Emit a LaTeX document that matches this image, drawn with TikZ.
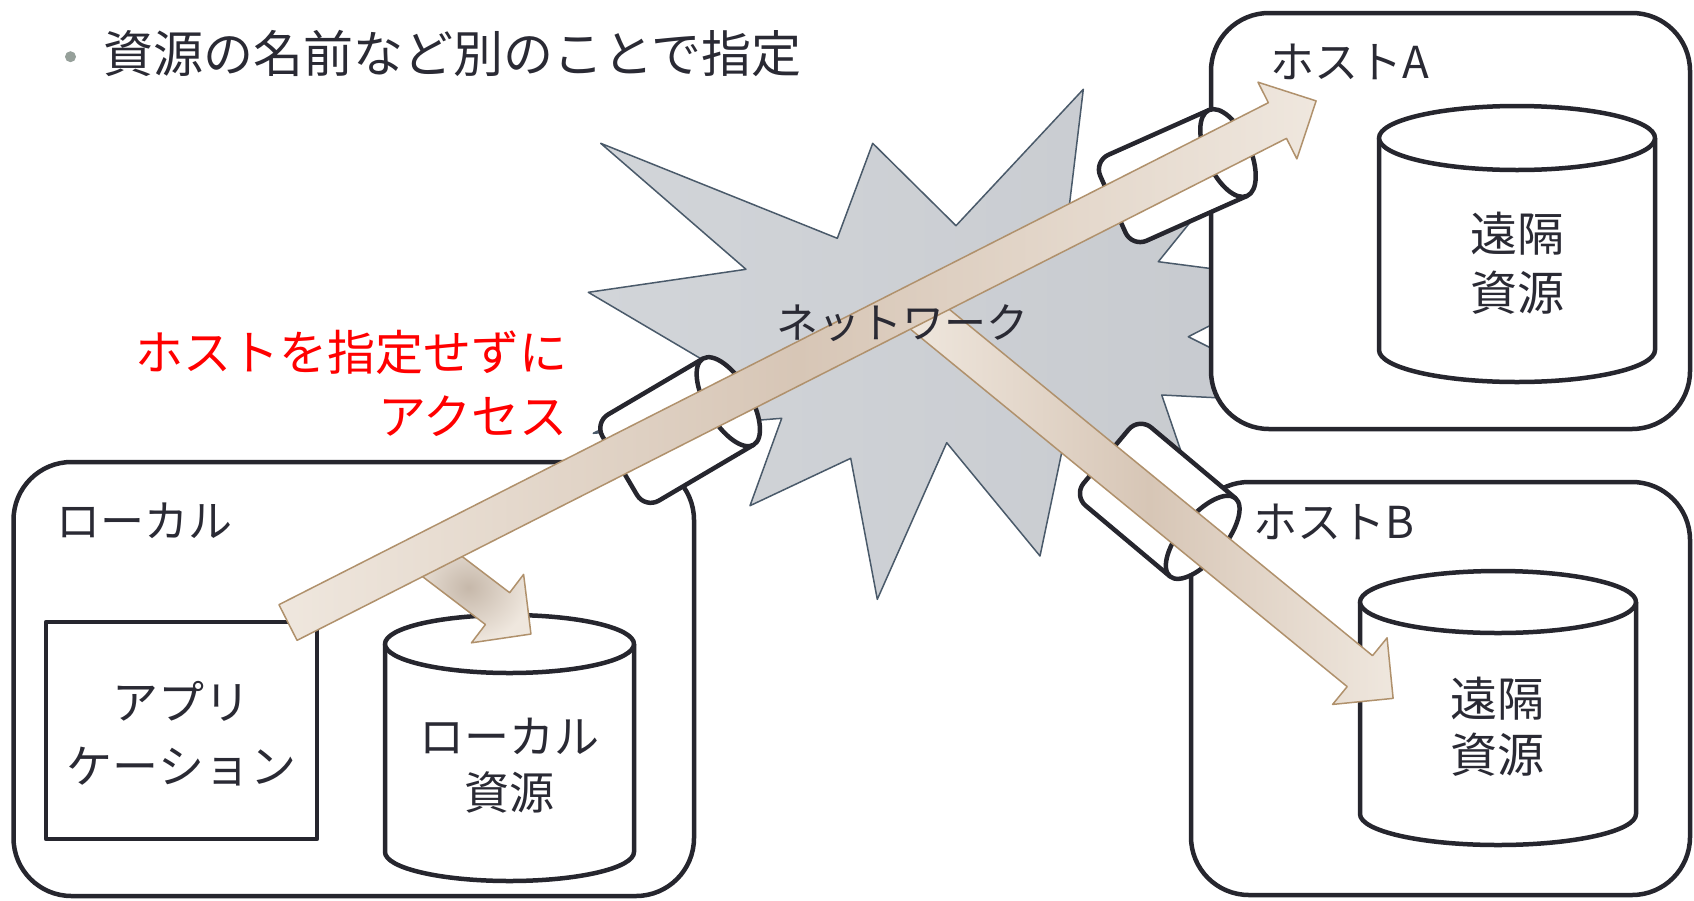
\documentclass[tikz,border=0pt]{standalone}
\usepackage{fontspec}
\setmainfont{Noto Sans CJK JP}
\definecolor{ink}{RGB}{38,38,46}
\definecolor{txt}{RGB}{42,42,52}
\definecolor{bul}{RGB}{150,160,154}
\definecolor{starline}{RGB}{74,90,106}
\definecolor{starA}{RGB}{210,213,217}
\definecolor{starB}{RGB}{180,184,191}
\definecolor{starC}{RGB}{198,201,206}
\definecolor{arrline}{RGB}{176,145,108}
\definecolor{arrL}{RGB}{239,231,222}
\definecolor{arrD}{RGB}{215,198,182}
\definecolor{arrS}{RGB}{198,184,170}
\newcommand\cylres[5]{% cx, rx, ytop, ybot, ry
  \draw[cyl] ({#1-#2},#3) -- ({#1-#2},#4) arc[start angle=180,end angle=360,x radius=#2pt,y radius=#5pt] -- ({#1+#2},#3);
  \draw[cyl] (#1,#3) ellipse[x radius=#2pt, y radius=#5pt];}
\newcommand\tube[4]{% x, y, angle, R
  \begin{scope}[shift={(#1,#2)}, rotate=#3]
    \draw[cyl, rounded corners=16pt] (0,-#4) -- (-126,-#4) -- (-126,#4) -- (0,#4);
    \draw[cyl] (0,0) ellipse[x radius=22pt, y radius=#4pt];
  \end{scope}}
\newcommand\barrow[6]{% x, y, angle, Lh, Lt, style
  \begin{scope}[shift={(#1,#2)}, rotate=#3]
    \path[#6] (0,-20) -- (#4,-20) -- (#4,-43) -- (#5,0) -- (#4,43) -- (#4,20) -- (0,20) -- cycle;
  \end{scope}}
\begin{document}
\begin{tikzpicture}[x=1pt, y=-1pt, line join=round,
  box/.style={draw=ink, line width=4.5pt, fill=white, rounded corners=58pt},
  cyl/.style={draw=ink, line width=4.5pt, fill=white},
  arrowfill/.style={draw=arrline, line width=1.5pt, left color=arrL, right color=arrL, middle color=arrD},
  arrowspot/.style={draw=arrline, line width=1.5pt, inner color=arrS, outer color=arrL},
  lbl/.style={inner sep=0pt, text=txt}]
\useasboundingbox (0,0) rectangle (1694,900);
\fill[white] (0,0) rectangle (1694,900);

% network star
\path[draw=starline, line width=1.5pt, left color=starA, middle color=starB, right color=starC]
  (600.7,143.3) -- (837.3,238.3) -- (872.7,143.3) -- (956,225.7) -- (1083.3,89.3)
  -- (1065.8,235) -- (1230,173) -- (1158.3,261.7) -- (1299,280) -- (1188.3,336.7)
  -- (1321,403) -- (1161.7,395) -- (1196,495) -- (1066,432) -- (1040,556)
  -- (946.7,442.7) -- (877.3,599.3) -- (850.7,458.3) -- (750,505.7) -- (781.7,418.3)
  -- (593.3,433.3) -- (720,370) -- (588.3,292.3) -- (746,269.3) -- cycle;

% boxes
\draw[box] (13.5,462) rectangle (694,896);
\draw[box] (1211,13) rectangle (1690,429);
\draw[box] (1191,482) rectangle (1690,895);
\draw[cyl] (46,622) rectangle (317,839);

% resources
\cylres{509.5}{124.5}{644}{852}{29}
\cylres{1517}{138}{138}{350}{32}
\cylres{1498}{138}{602}{814}{31}

% tubes
\tube{728.3}{401.7}{30.5}{50}
\tube{1228}{153}{24}{47}
\tube{1202.7}{537.3}{-40}{51}

% arrows
\barrow{418}{548}{-37.3}{100}{142}{arrowspot}
\barrow{918}{309.5}{-39.3}{571}{614}{arrowfill}
\barrow{288}{622.5}{26.9}{1109.5}{1152.9}{arrowfill}

% texts
\fill[bul] (70.5,56.7) circle[radius=5.5pt];
\node[lbl, anchor=base west, font=\fontsize{50}{60}\selectfont] (title) at (103,72.5) {資源の名前など別のことで指定};
\node[lbl, text=red, anchor=base east, font=\fontsize{48}{58}\selectfont] (red1) at (568,370) {ホストを指定せずに};
\node[lbl, text=red, anchor=base east, font=\fontsize{48}{58}\selectfont] (red2) at (568,434) {アクセス};
\node[lbl, anchor=base, font=\fontsize{42}{52}\selectfont] (net) at (902,338) {ネットワーク};
\node[lbl, anchor=base, font=\fontsize{44}{54}\selectfont] (hostA) at (1350,78) {ホストA};
\node[lbl, anchor=base, font=\fontsize{44}{54}\selectfont] (hostB) at (1334,538) {ホストB};
\node[lbl, anchor=base, font=\fontsize{44}{54}\selectfont] (local) at (144,537) {ローカル};
\node[lbl, anchor=base, font=\fontsize{46}{56}\selectfont] (app1) at (181.5,719.5) {アプリ};
\node[lbl, anchor=base, font=\fontsize{46}{56}\selectfont] (app2) at (181.5,783.5) {ケーション};
\node[lbl, anchor=base, font=\fontsize{45}{55}\selectfont] (lr1) at (509.5,753) {ローカル};
\node[lbl, anchor=base, font=\fontsize{45}{55}\selectfont] (lr2) at (509.5,809) {資源};
\node[lbl, anchor=base, font=\fontsize{47}{57}\selectfont] (ra1) at (1517,251) {遠隔};
\node[lbl, anchor=base, font=\fontsize{47}{57}\selectfont] (ra2) at (1517,310) {資源};
\node[lbl, anchor=base, font=\fontsize{47}{57}\selectfont] (rb1) at (1497,716) {遠隔};
\node[lbl, anchor=base, font=\fontsize{47}{57}\selectfont] (rb2) at (1497,772) {資源};
\end{tikzpicture}
\end{document}
